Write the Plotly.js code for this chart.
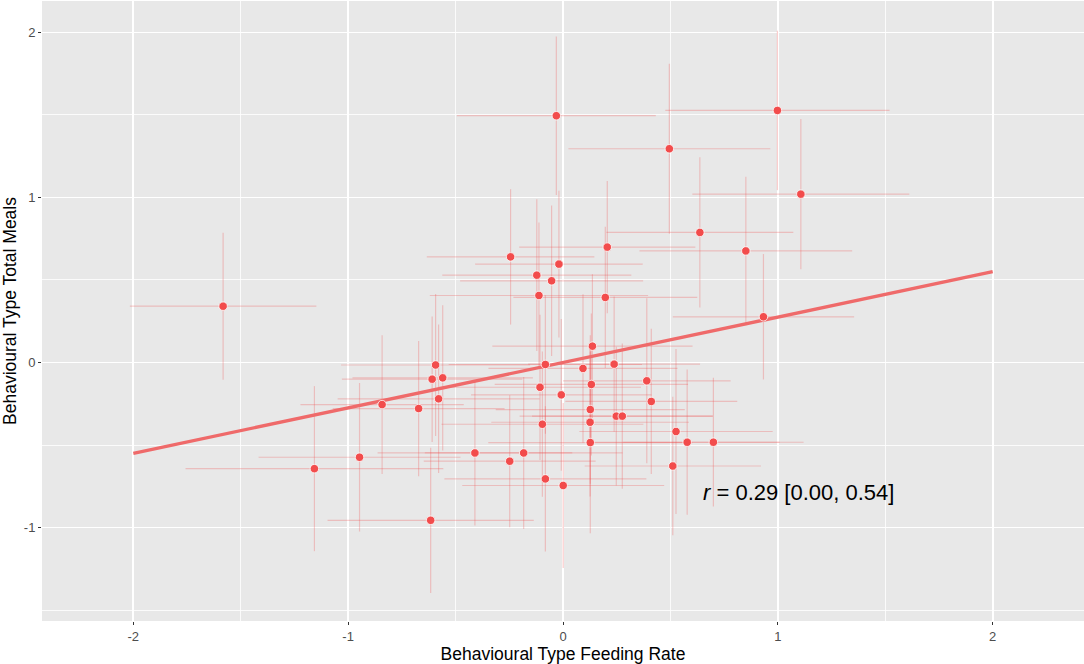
<!DOCTYPE html>
<html>
<head>
<meta charset="utf-8">
<script src="https://cdn.plot.ly/plotly-3.0.1.min.js"></script>
<style>
  html, body { margin: 0; padding: 0; background: #fff; }
  #plot { width: 1084px; height: 664px; }
</style>
</head>
<body>
<div id="plot"></div>
<script>
// behavioural types (BLUP-ish estimates) with their uncertainty
const feedingRate = [
  -1.582, -0.031, 0.998, 0.495, 1.107, 0.637, 0.851, 0.206, -0.244, -0.122,
  -0.019, -0.053, -0.112, 0.197, 0.933, 0.137, -0.082, 0.093, 0.238, -0.107,
  -0.008, 0.132, 0.390, 0.411, 0.127, 0.248, 0.276, -0.096, 0.126, 0.127,
  0.526, 0.578, 0.700, 0.511, -0.183, -0.248, -0.082, 0.001, -0.593, -0.609,
  -0.560, -0.579, -0.842, -0.672, -0.947, -1.157, -0.410, -0.616
];
const totalMeals = [
  0.341, 1.495, 1.527, 1.295, 1.020, 0.788, 0.676, 0.699, 0.640, 0.529,
  0.596, 0.495, 0.406, 0.394, 0.277, 0.099, -0.012, -0.036, -0.010, -0.150,
  -0.196, -0.133, -0.111, -0.236, -0.285, -0.325, -0.325, -0.374, -0.362, -0.485,
  -0.418, -0.483, -0.483, -0.627, -0.548, -0.598, -0.705, -0.745, -0.015, -0.101,
  -0.093, -0.220, -0.255, -0.279, -0.574, -0.643, -0.548, -0.956
];
const feedingRateErr = [
  0.434, 0.463, 0.522, 0.470, 0.505, 0.435, 0.495, 0.410, 0.390, 0.440,
  0.390, 0.426, 0.508, 0.428, 0.422, 0.466, 0.450, 0.440, 0.400, 0.470,
  0.420, 0.450, 0.390, 0.400, 0.440, 0.450, 0.420, 0.470, 0.460, 0.475,
  0.450, 0.430, 0.420, 0.410, 0.460, 0.400, 0.470, 0.470, 0.440, 0.420,
  0.420, 0.470, 0.380, 0.400, 0.470, 0.600, 0.453, 0.480
];
const totalMealsErr = [
  0.445, 0.480, 0.483, 0.515, 0.455, 0.455, 0.450, 0.400, 0.410, 0.460,
  0.445, 0.456, 0.442, 0.428, 0.380, 0.436, 0.420, 0.450, 0.410, 0.440,
  0.460, 0.430, 0.500, 0.440, 0.450, 0.420, 0.440, 0.440, 0.450, 0.550,
  0.500, 0.440, 0.390, 0.420, 0.460, 0.400, 0.440, 0.500, 0.430, 0.380,
  0.440, 0.450, 0.420, 0.410, 0.450, 0.500, 0.440, 0.440
];

// fitted line
const fitX = [-2, 2];
const fitY = [-0.55, 0.55];

// ggplot writes a plain hyphen for negatives
const xTicks = [-2, -1, 0, 1, 2];
const xTickText = ['-2', '-1', '0', '1', '2'];
const yTicks = [-1, 0, 1, 2];
const yTickText = ['-1', '0', '1', '2'];

const corrLabel = '<i>r</i> = 0.29 [0.00, 0.54]';

const red = '#F24C4C';
const font = 'Liberation Sans, Arial, sans-serif';

const bars = {
    x: feedingRate,
    y: totalMeals,
    mode: 'markers',
    type: 'scatter',
    marker: { size: 1, opacity: 0 },
    error_x: { type: 'data', array: feedingRateErr, visible: true, width: 0, thickness: 1.2, color: 'rgba(240,80,80,0.28)' },
    error_y: { type: 'data', array: totalMealsErr, visible: true, width: 0, thickness: 1.2, color: 'rgba(240,80,80,0.28)' },
    hoverinfo: 'skip'
};

const fit = {
    x: fitX,
    y: fitY,
    mode: 'lines',
    type: 'scatter',
    line: { color: '#EF6A6A', width: 3.4 }
};

const pts = {
    x: feedingRate,
    y: totalMeals,
    mode: 'markers',
    type: 'scatter',
    marker: { size: 8.5, color: red, line: { color: 'white', width: 0.8 } }
};

const axisBase = {
    showgrid: true,
    gridcolor: '#FFFFFF',
    gridwidth: 1.7,
    zeroline: false,
    showline: false,
    ticks: 'outside',
    ticklen: 3,
    tickwidth: 1,
    tickcolor: '#333333',
    tickfont: { family: font, size: 13, color: '#4D4D4D' },
    tickmode: 'array',
    minor: { dtick: 0.5, tick0: 0, showgrid: true, gridcolor: '#FFFFFF', gridwidth: 0.8, ticks: '' }
};

const layout = {
    width: 1084,
    height: 664,
    margin: { l: 42, r: 0, t: 1, b: 43 },
    paper_bgcolor: '#FFFFFF',
    plot_bgcolor: '#E8E8E8',
    showlegend: false,
    xaxis: Object.assign({}, axisBase, {
        range: [-2.425, 2.425],
        tickvals: xTicks,
        ticktext: xTickText,
        title: { text: 'Behavioural Type Feeding Rate', font: { family: font, size: 17.5, color: '#000' }, standoff: 5 }
    }),
    yaxis: Object.assign({}, axisBase, {
        range: [-1.566, 2.19],
        tickvals: yTicks,
        ticktext: yTickText,
        title: { text: 'Behavioural Type Total Meals', font: { family: font, size: 17.5, color: '#000' }, standoff: 9 }
    }),
    annotations: [{
        x: 1.095, y: -0.79, xref: 'x', yref: 'y',
        text: corrLabel, showarrow: false,
        font: { family: font, size: 22, color: '#000' }
    }]
};

Plotly.newPlot('plot', [bars, fit, pts], layout, { staticPlot: true });
</script>
</body>
</html>
